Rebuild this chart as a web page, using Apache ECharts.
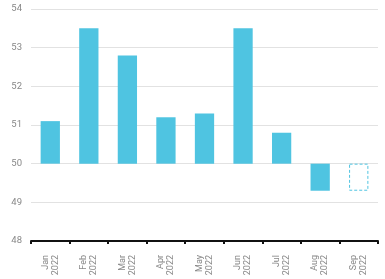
<!DOCTYPE html>
<html><head><meta charset="utf-8">
<style>html,body{margin:0;padding:0;background:#fff}#c{width:385px;height:279px}</style>
<script src="https://cdn.jsdelivr.net/npm/echarts@6/dist/echarts.min.js"></script>
</head><body><div id="c"></div>
<script>
const categories = ['Jan\n2022','Feb\n2022','Mar\n2022','Apr\n2022','May\n2022','Jun\n2022','Jul\n2022','Aug\n2022','Sep\n2022'];
const values = [51.1, 53.5, 52.8, 51.2, 51.3, 53.5, 50.8, 49.3, 49.3];
const forecast = [false, false, false, false, false, false, false, false, true];
const baseline = 50;
const yTicks = [48, 49, 50, 51, 52, 53, 54];

const chart = echarts.init(document.getElementById('c'), null, {renderer:'canvas'});
const color = '#4fc4e1';
chart.setOption({
  animation: false,
  grid: {left: 31, right: 7, top: 9, bottom: 38},
  xAxis: {
    type: 'category', data: categories,
    axisLine: {lineStyle: {color: '#111', width: 2}},
    axisTick: {show: true, length: 3, lineStyle: {color: '#111', width: 2}},
    axisLabel: {rotate: 90, color: '#888', fontSize: 9, fontFamily: 'Roboto', lineHeight: 10, margin: 14}
  },
  yAxis: {
    type: 'value', min: yTicks[0], max: yTicks[yTicks.length-1], interval: 1,
    axisLine: {show: false}, axisTick: {show: false},
    axisLabel: {color: '#888', fontSize: 9.5, fontFamily: 'Roboto', margin: 9},
    splitLine: {lineStyle: {color: '#e2e2e2', width: 1}}
  },
  series: [{
    type: 'custom',
    data: values.map((v, i) => [i, v, forecast[i] ? 1 : 0]),
    encode: {x: 0, y: 1},
    renderItem: function (params, api) {
      const i = api.value(0), v = api.value(1), f = api.value(2);
      const p1 = api.coord([i, baseline]);
      const p2 = api.coord([i, v]);
      const w = api.size([1, 0])[0] * 0.5;
      const y = Math.min(p1[1], p2[1]);
      const h = Math.abs(p1[1] - p2[1]);
      if (f) {
        return {type: 'rect', shape: {x: p1[0] - w/2 + 0.5, y: y + 0.5, width: w - 1, height: h - 1},
          style: {fill: 'none', stroke: color, lineWidth: 1, lineDash: [3, 2]}};
      }
      return {type: 'rect', shape: {x: p1[0] - w/2, y: y, width: w, height: h}, style: {fill: color}};
    }
  }]
});
</script></body></html>
